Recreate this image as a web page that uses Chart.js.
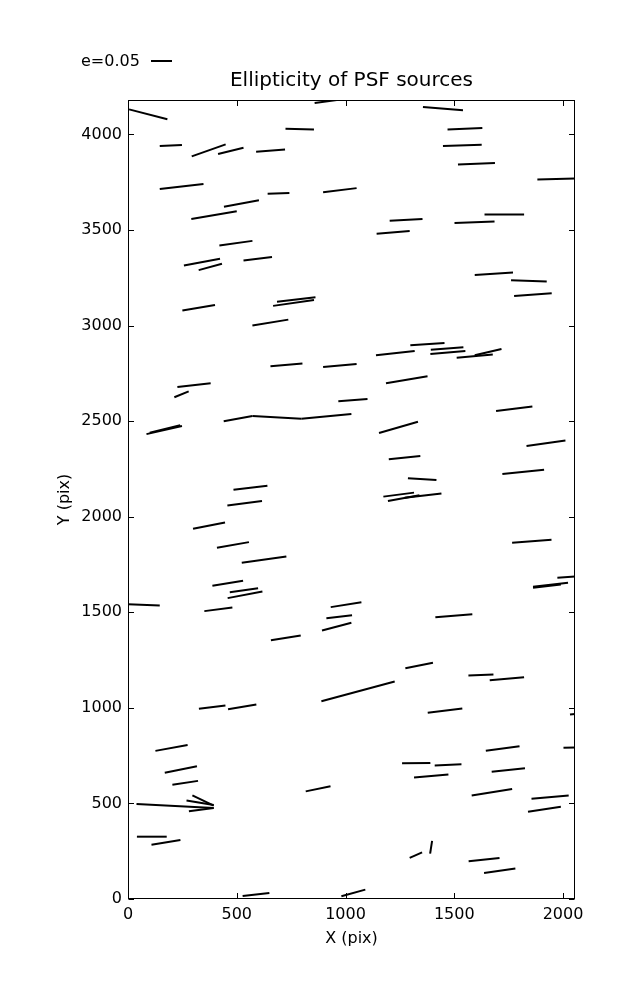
<!DOCTYPE html>
<html>
<head>
<meta charset="utf-8">
<script src="https://cdn.jsdelivr.net/npm/chart.js@4/dist/chart.umd.min.js"></script>
<style>
  html, body { margin: 0; padding: 0; background: #fff; }
  #wrap { width: 637px; height: 1000px; }
</style>
</head>
<body>
<div id="wrap"><canvas id="c" width="637" height="1000"></canvas></div>
<script>
// Whisker segments (data coordinates, pixels of the CCD)
const segX1 = [5,858,724,146,293,414,589,146,642,897,441,291,420,257,325,531,250,685,667,572,655,897,227,213,967,440,572,797,85,100,485,457,299,409,523,388,468,458,-10,351,657,932,912,892,889,326,460,126,169,204,39,296,269,280,817,41,108,527,981,1356,1469,1448,1517,1882,1203,1143,1639,1501,1594,1761,1775,1298,1140,1392,1390,1511,1594,1186,1692,1154,1832,1199,1287,1721,1174,1195,1272,1766,1974,1862,1862,1413,1275,1565,1663,1378,2032,1645,2002,1260,1410,1315,1672,1580,1855,1839,1295,1389,1566,1637];
const segY1 = [4131,4164,4029,3939,3885,3898,3909,3715,3689,3698,3621,3557,3419,3314,3290,3340,3079,3124,3103,3000,2787,2783,2679,2625,2604,2499,2527,2513,2432,2440,2141,2059,1937,1838,1759,1639,1605,1574,1543,1506,1354,1527,1469,1405,1035,995,993,775,660,598,497,542,515,459,563,326,284,16,14,4143,4026,3940,3843,3764,3548,3480,3581,3537,3265,3237,3155,2897,2845,2874,2851,2832,2845,2698,2553,2438,2370,2300,2201,2223,2105,2082,2099,1864,1681,1634,1628,1474,1207,1169,1145,974,965,775,791,710,699,635,666,541,525,457,215,237,197,136];
const segX2 = [181,960,855,248,449,531,722,347,742,1051,602,500,572,423,432,662,400,862,855,737,802,1051,380,279,1101,572,797,1027,248,240,641,616,446,556,728,529,598,618,146,480,794,1073,1030,1027,1226,448,590,274,317,322,394,394,394,394,931,178,241,650,1091,1540,1629,1626,1687,2060,1354,1295,1821,1685,1770,1925,1948,1455,1318,1542,1551,1677,1717,1377,1859,1333,2011,1344,1418,1913,1315,1340,1441,1947,2060,2023,1990,1583,1402,1680,1821,1537,2080,1800,2080,1390,1533,1473,1825,1766,2026,1990,1352,1398,1708,1781];
const segY2 = [4079,4180,4026,3944,3948,3930,3921,3740,3694,3719,3656,3598,3443,3349,3323,3359,3108,3148,3134,3031,2801,2799,2698,2656,2616,2527,2513,2537,2474,2478,2162,2082,1970,1867,1792,1665,1626,1609,1536,1525,1379,1553,1485,1445,1138,1012,1017,806,694,618,476,488,492,476,590,326,309,31,49,4126,4033,3946,3850,3770,3558,3495,3581,3545,3277,3230,3169,2909,2867,2886,2867,2848,2877,2735,2577,2497,2399,2317,2192,2246,2126,2112,2122,1880,1688,1654,1645,1490,1236,1174,1160,996,970,799,794,712,705,651,684,576,542,483,244,304,215,159];

const xTicks = [0, 500, 1000, 1500, 2000];
const yTicks = [0, 500, 1000, 1500, 2000, 2500, 3000, 3500, 4000];
const xRange = [0, 2055];
const yRange = [0, 4180];
const titleText = 'Ellipticity of PSF sources';
const xLabel = 'X (pix)';
const yLabel = 'Y (pix)';
const legendText = 'e=0.05';

const FONT = 'DejaVu Sans';

const datasets = segX1.map((x, i) => ({
  data: [{x: x, y: segY1[i]}, {x: segX2[i], y: segY2[i]}],
  showLine: true,
  borderColor: '#000',
  borderWidth: 2,
  borderCapStyle: 'butt',
  pointRadius: 0,
  pointHoverRadius: 0,
  fill: false
}));

const framePlugin = {
  id: 'frame',
  afterDraw(chart) {
    const {ctx, chartArea: a, scales} = chart;
    ctx.save();
    ctx.strokeStyle = '#000';
    ctx.lineWidth = 1;
    const L = Math.round(a.left) + 0.5, R = Math.round(a.right) - 0.5;
    const T = Math.round(a.top) + 0.5, B = Math.round(a.bottom) - 0.5;
    ctx.strokeRect(L, T, R - L, B - T);
    const tl = 5.5;
    ctx.beginPath();
    xTicks.forEach(v => {
      const p = Math.round(scales.x.getPixelForValue(v)) + 0.5;
      ctx.moveTo(p, B); ctx.lineTo(p, B - tl);
      ctx.moveTo(p, T); ctx.lineTo(p, T + tl);
    });
    yTicks.forEach(v => {
      const p = Math.round(scales.y.getPixelForValue(v)) + 0.5;
      ctx.moveTo(L, p); ctx.lineTo(L + tl, p);
      ctx.moveTo(R, p); ctx.lineTo(R - tl, p);
    });
    ctx.stroke();
    // title
    ctx.fillStyle = '#000';
    ctx.font = '20px "' + FONT + '"';
    ctx.textAlign = 'center';
    ctx.textBaseline = 'alphabetic';
    ctx.fillText(titleText, (a.left + a.right) / 2, 86);
    // legend (whisker scale)
    ctx.font = '16px "' + FONT + '"';
    ctx.textAlign = 'left';
    ctx.fillText(legendText, 81, 66);
    ctx.lineWidth = 2;
    ctx.beginPath();
    ctx.moveTo(151, 61); ctx.lineTo(172, 61);
    ctx.stroke();
    ctx.restore();
  }
};

new Chart(document.getElementById('c'), {
  type: 'scatter',
  data: { datasets },
  options: {
    responsive: false,
    animation: false,
    events: [],
    layout: { padding: { top: 100, right: 62, left: 0, bottom: 0 } },
    plugins: { legend: { display: false }, tooltip: { enabled: false }, title: { display: false } },
    scales: {
      x: {
        type: 'linear', min: xRange[0], max: xRange[1],
        afterBuildTicks: s => { s.ticks = xTicks.map(v => ({value: v})); },
        afterFit: s => { s.height = 101; },
        grid: { display: false, drawTicks: false },
        border: { display: false },
        ticks: { color: '#000', padding: 6, maxRotation: 0, autoSkip: false,
                 font: { family: FONT, size: 16 }, callback: v => String(v) },
        title: { display: true, text: xLabel, color: '#000',
                 font: { family: FONT, size: 16 }, padding: { top: 0, bottom: 52 } }
      },
      y: {
        type: 'linear', min: yRange[0], max: yRange[1],
        afterBuildTicks: s => { s.ticks = yTicks.map(v => ({value: v})); },
        afterFit: s => { s.width = 128; },
        grid: { display: false, drawTicks: false },
        border: { display: false },
        ticks: { color: '#000', padding: 6, autoSkip: false,
                 font: { family: FONT, size: 16 }, callback: v => String(v) },
        title: { display: true, text: yLabel, color: '#000',
                 font: { family: FONT, size: 16 }, padding: { top: 55, bottom: 0 } }
      }
    }
  },
  plugins: [framePlugin]
});
</script>
</body>
</html>
